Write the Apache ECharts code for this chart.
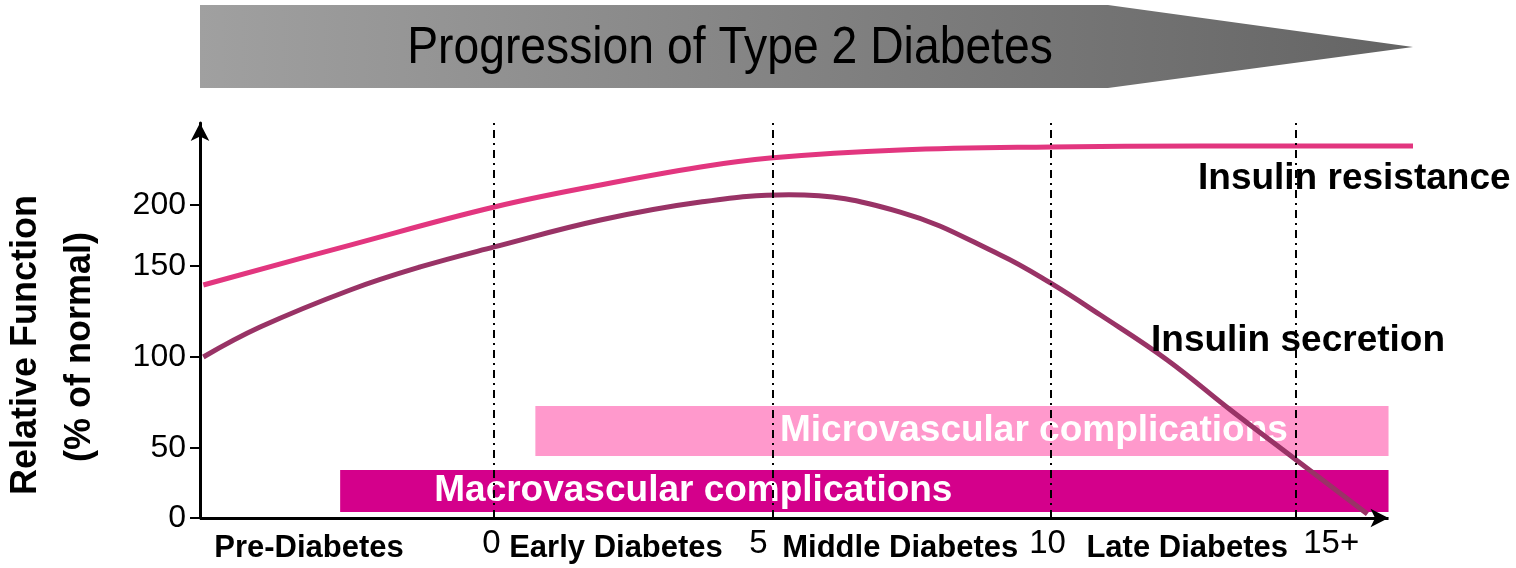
<!DOCTYPE html>
<html><head><meta charset="utf-8">
<script src="https://cdn.jsdelivr.net/npm/echarts@6/dist/echarts.min.js"></script>
<style>html,body{margin:0;padding:0;background:#fff}#c{width:1516px;height:568px}</style>
</head><body><div id="c"></div>
<script>
// ---- data (x in years, y in axis units) ----
const xMin = -5.29, xMax = 16.52, xAxisEnd = 16.08, yMax = 252.4;
const yearTickPos = [-0.05, 4.75, 9.95, 15.05];
const yearTickLabels = ['0', '5', '10', '15+'];
const stageCenters = [-3.33, 2.19, 7.3, 12.46];
const stageNames = ['Pre-Diabetes', 'Early Diabetes', 'Middle Diabetes', 'Late Diabetes'];
const stageBoundaries = [0, 5, 10, 14.42];
const yTickPos = [0, 44.7, 102.9, 161, 200];
const yTickLabels = ['0', '50', '100', '150', '200'];

const resistanceX = [-5.23, -2.59, 0, 1.91, 3.71, 4.96, 7.30, 10.0, 12.7, 16.52];
const resistanceY = [148.9, 174.4, 198.7, 212.8, 224.3, 230.0, 235.1, 237.1, 237.7, 237.7];

const secretionX = [-5.23, -4.21, -2.59, -1.33, 0, 1.91, 3.71, 5.3, 7.3, 9.1, 10.0, 10.9, 12.1, 13.24, 14.42, 15.70];
const secretionY = [102.9, 122.0, 145.7, 160.4, 173.2, 190.4, 201.9, 206.6, 195.5, 168.1, 150.2, 129.7, 101.0, 69.0, 37.1, 2.6];

const microRange = [0.74, 16.08, 39.6, 71.6];   // xStart, xEnd, yLow, yHigh
const macroRange = [-2.77, 16.08, 3.8, 30.7];

const zip = (xs, ys) => xs.map((x, i) => [x, ys[i]]);
const FONT = "'Liberation Sans', Arial, sans-serif";
const pick = (pos, labels) => v => { const i = pos.findIndex(p => Math.abs(p - v) < 1e-6); return i >= 0 ? labels[i] : ''; };

const chart = echarts.init(document.getElementById('c'), null, { renderer: 'canvas' });
chart.setOption({
  animation: false,
  backgroundColor: '#fff',
  grid: { left: 200, right: 103, top: 123, bottom: 50, containLabel: false },
  xAxis: [{
    type: 'value', min: xMin, max: xMax,
    axisLine: { show: false, onZero: false },
    axisTick: { show: false }, splitLine: { show: false },
    axisLabel: { customValues: yearTickPos, formatter: pick(yearTickPos, yearTickLabels),
      fontFamily: FONT, fontSize: 33, color: '#000', margin: 9 }
  }, {
    type: 'value', min: xMin, max: xMax, position: 'bottom',
    axisLine: { show: false, onZero: false }, axisTick: { show: false }, splitLine: { show: false },
    axisLabel: { customValues: stageCenters, formatter: pick(stageCenters, stageNames),
      fontFamily: FONT, fontWeight: 'bold', fontSize: 31, color: '#000', margin: 15 }
  }],
  yAxis: {
    type: 'value', min: 0, max: yMax,
    axisLine: { show: true, onZero: false, symbol: ['none', 'arrow'], symbolSize: [14, 18], lineStyle: { color: '#000', width: 3 } },
    axisTick: { show: true, customValues: yTickPos, length: 10, lineStyle: { color: '#000', width: 2 } },
    axisLabel: { customValues: yTickPos, formatter: pick(yTickPos, yTickLabels),
      fontFamily: FONT, fontSize: 32, color: '#000', margin: 14 },
    splitLine: { show: false }
  },
  series: [
    { name: 'Macrovascular', type: 'line', data: [], z: 1, silent: true,
      markArea: { silent: true, itemStyle: { color: '#d4008b', opacity: 1 },
        label: { show: true, position: 'inside', offset: [-171, 0], color: '#fff', fontFamily: FONT, fontWeight: 'bold', fontSize: 37 },
        data: [[{ name: 'Macrovascular complications', coord: [macroRange[0], macroRange[2]] }, { coord: [macroRange[1], macroRange[3]] }]] } },
    { name: 'stages', type: 'line', data: [], z: 2, silent: true,
      markLine: { silent: true, symbol: ['none', 'none'], label: { show: false },
        lineStyle: { color: '#000', width: 2, type: [8, 5, 2, 5] },
        data: stageBoundaries.map(v => ({ xAxis: v })) } },
    { name: 'Microvascular', type: 'line', data: [], z: 3, silent: true,
      markArea: { silent: true, itemStyle: { color: '#ff99cc', opacity: 1 },
        label: { show: true, position: 'inside', offset: [72, 0], color: '#fff', fontFamily: FONT, fontWeight: 'bold', fontSize: 37 },
        data: [[{ name: 'Microvascular complications', coord: [microRange[0], microRange[2]] }, { coord: [microRange[1], microRange[3]] }]] } },
    { name: 'x axis', type: 'line', data: [], z: 3, silent: true,
      markLine: { silent: true, symbol: ['none', 'arrow'], symbolSize: [14, 18], label: { show: false },
        lineStyle: { color: '#000', width: 3, type: 'solid' },
        data: [[{ coord: [xMin, 0] }, { coord: [xAxisEnd, 0] }]] } },
    { name: 'Insulin resistance', type: 'line', z: 4, smooth: 0.4, symbol: 'none',
      lineStyle: { color: '#e2367f', width: 5 }, data: zip(resistanceX, resistanceY) },
    { name: 'Insulin secretion', type: 'line', z: 4, smooth: 0.4, symbol: 'none',
      lineStyle: { color: '#993366', width: 5 }, data: zip(secretionX, secretionY) }
  ],
  graphic: [
    { type: 'polygon', z: 0, shape: { points: [[200, 5], [1108, 5], [1413, 47], [1108, 88], [200, 88]] },
      style: { fill: new echarts.graphic.LinearGradient(0, 0, 1, 0, [{ offset: 0, color: '#a0a0a0' }, { offset: 1, color: '#646464' }]) } },
    { type: 'text', z: 1, x: 730, y: 49, scaleX: 0.89, style: { text: 'Progression of Type 2 Diabetes', font: "52px " + FONT, fill: '#000', align: 'center', verticalAlign: 'middle' } },
    { type: 'text', x: 26, y: 345, rotation: Math.PI / 2, style: { text: 'Relative Function', font: "bold 36px " + FONT, fill: '#000', align: 'center', verticalAlign: 'middle' } },
    { type: 'text', x: 80, y: 347, rotation: Math.PI / 2, style: { text: '(% of normal)', font: "bold 36px " + FONT, fill: '#000', align: 'center', verticalAlign: 'middle' } },
    { type: 'text', x: 1198, y: 179, z: 10, style: { text: 'Insulin resistance', font: "bold 37px " + FONT, fill: '#000', align: 'left', verticalAlign: 'middle' } },
    { type: 'text', x: 1151, y: 341, z: 10, style: { text: 'Insulin secretion', font: "bold 37px " + FONT, fill: '#000', align: 'left', verticalAlign: 'middle' } }
  ]
});
</script></body></html>
